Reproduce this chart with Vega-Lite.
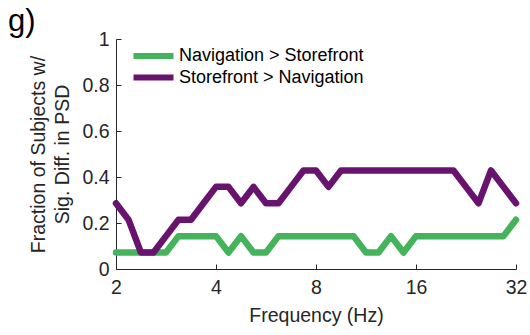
{
  "$schema": "https://vega.github.io/schema/vega-lite/v6.json",
  "width": 400,
  "height": 230,
  "autosize": {"type": "none"},
  "padding": {"left": 116, "top": 39, "right": 14, "bottom": 66},
  "background": "white",
  "config": {
    "view": {"stroke": null},
    "font": "Liberation Sans",
    "axis": {"grid": false, "domainColor": "#262626", "tickColor": "#262626", "labelColor": "#262626", "titleColor": "#262626", "titleFontWeight": "normal", "domainWidth": 1, "tickWidth": 1}
  },
  "title": {"text": "g)", "anchor": "start", "frame": "group", "fontSize": 31, "fontWeight": "normal", "color": "#000000", "dx": -108, "dy": 37, "baseline": "alphabetic", "offset": 4},
  "data": {
    "values": [
      {"f": 2.0, "v": 0.0714, "s": "Navigation > Storefront"},
      {"f": 2.181, "v": 0.0714, "s": "Navigation > Storefront"},
      {"f": 2.378, "v": 0.0714, "s": "Navigation > Storefront"},
      {"f": 2.594, "v": 0.0714, "s": "Navigation > Storefront"},
      {"f": 2.828, "v": 0.0714, "s": "Navigation > Storefront"},
      {"f": 3.084, "v": 0.1429, "s": "Navigation > Storefront"},
      {"f": 3.364, "v": 0.1429, "s": "Navigation > Storefront"},
      {"f": 3.668, "v": 0.1429, "s": "Navigation > Storefront"},
      {"f": 4.0, "v": 0.1429, "s": "Navigation > Storefront"},
      {"f": 4.362, "v": 0.0714, "s": "Navigation > Storefront"},
      {"f": 4.757, "v": 0.1429, "s": "Navigation > Storefront"},
      {"f": 5.187, "v": 0.0714, "s": "Navigation > Storefront"},
      {"f": 5.657, "v": 0.0714, "s": "Navigation > Storefront"},
      {"f": 6.169, "v": 0.1429, "s": "Navigation > Storefront"},
      {"f": 6.727, "v": 0.1429, "s": "Navigation > Storefront"},
      {"f": 7.336, "v": 0.1429, "s": "Navigation > Storefront"},
      {"f": 8.0, "v": 0.1429, "s": "Navigation > Storefront"},
      {"f": 8.724, "v": 0.1429, "s": "Navigation > Storefront"},
      {"f": 9.514, "v": 0.1429, "s": "Navigation > Storefront"},
      {"f": 10.375, "v": 0.1429, "s": "Navigation > Storefront"},
      {"f": 11.314, "v": 0.0714, "s": "Navigation > Storefront"},
      {"f": 12.338, "v": 0.0714, "s": "Navigation > Storefront"},
      {"f": 13.454, "v": 0.1429, "s": "Navigation > Storefront"},
      {"f": 14.672, "v": 0.0714, "s": "Navigation > Storefront"},
      {"f": 16.0, "v": 0.1429, "s": "Navigation > Storefront"},
      {"f": 17.448, "v": 0.1429, "s": "Navigation > Storefront"},
      {"f": 19.027, "v": 0.1429, "s": "Navigation > Storefront"},
      {"f": 20.749, "v": 0.1429, "s": "Navigation > Storefront"},
      {"f": 22.627, "v": 0.1429, "s": "Navigation > Storefront"},
      {"f": 24.675, "v": 0.1429, "s": "Navigation > Storefront"},
      {"f": 26.909, "v": 0.1429, "s": "Navigation > Storefront"},
      {"f": 29.344, "v": 0.1429, "s": "Navigation > Storefront"},
      {"f": 32.0, "v": 0.2143, "s": "Navigation > Storefront"},
      {"f": 2.0, "v": 0.2857, "s": "Storefront > Navigation"},
      {"f": 2.181, "v": 0.2143, "s": "Storefront > Navigation"},
      {"f": 2.378, "v": 0.0714, "s": "Storefront > Navigation"},
      {"f": 2.594, "v": 0.0714, "s": "Storefront > Navigation"},
      {"f": 2.828, "v": 0.1429, "s": "Storefront > Navigation"},
      {"f": 3.084, "v": 0.2143, "s": "Storefront > Navigation"},
      {"f": 3.364, "v": 0.2143, "s": "Storefront > Navigation"},
      {"f": 3.668, "v": 0.2857, "s": "Storefront > Navigation"},
      {"f": 4.0, "v": 0.3571, "s": "Storefront > Navigation"},
      {"f": 4.362, "v": 0.3571, "s": "Storefront > Navigation"},
      {"f": 4.757, "v": 0.2857, "s": "Storefront > Navigation"},
      {"f": 5.187, "v": 0.3571, "s": "Storefront > Navigation"},
      {"f": 5.657, "v": 0.2857, "s": "Storefront > Navigation"},
      {"f": 6.169, "v": 0.2857, "s": "Storefront > Navigation"},
      {"f": 6.727, "v": 0.3571, "s": "Storefront > Navigation"},
      {"f": 7.336, "v": 0.4286, "s": "Storefront > Navigation"},
      {"f": 8.0, "v": 0.4286, "s": "Storefront > Navigation"},
      {"f": 8.724, "v": 0.3571, "s": "Storefront > Navigation"},
      {"f": 9.514, "v": 0.4286, "s": "Storefront > Navigation"},
      {"f": 10.375, "v": 0.4286, "s": "Storefront > Navigation"},
      {"f": 11.314, "v": 0.4286, "s": "Storefront > Navigation"},
      {"f": 12.338, "v": 0.4286, "s": "Storefront > Navigation"},
      {"f": 13.454, "v": 0.4286, "s": "Storefront > Navigation"},
      {"f": 14.672, "v": 0.4286, "s": "Storefront > Navigation"},
      {"f": 16.0, "v": 0.4286, "s": "Storefront > Navigation"},
      {"f": 17.448, "v": 0.4286, "s": "Storefront > Navigation"},
      {"f": 19.027, "v": 0.4286, "s": "Storefront > Navigation"},
      {"f": 20.749, "v": 0.4286, "s": "Storefront > Navigation"},
      {"f": 22.627, "v": 0.3571, "s": "Storefront > Navigation"},
      {"f": 24.675, "v": 0.2857, "s": "Storefront > Navigation"},
      {"f": 26.909, "v": 0.4286, "s": "Storefront > Navigation"},
      {"f": 29.344, "v": 0.3571, "s": "Storefront > Navigation"},
      {"f": 32.0, "v": 0.2857, "s": "Storefront > Navigation"}
    ]
  },
  "mark": {"type": "line", "strokeWidth": 6.5, "strokeJoin": "round", "strokeCap": "round", "clip": false},
  "encoding": {
    "x": {
      "field": "f", "type": "quantitative",
      "scale": {"type": "log", "base": 2, "domain": [2, 32], "nice": false},
      "axis": {"values": [2, 4, 8, 16, 32], "format": "d", "tickSize": -5, "labelFontSize": 19.5, "labelPadding": 14, "titleFontSize": 19.5, "title": "Frequency (Hz)", "titlePadding": 10, "labelFlush": false}
    },
    "y": {
      "field": "v", "type": "quantitative",
      "scale": {"domain": [0, 1], "nice": false, "zero": true},
      "axis": {"values": [0, 0.2, 0.4, 0.6, 0.8, 1], "format": ".1~f", "tickSize": -5, "labelFontSize": 19.5, "labelPadding": 12, "titleFontSize": 19.5, "title": ["Fraction of Subjects w/", "Sig. Diff. in PSD"], "titlePadding": 9, "titleLineHeight": 24}
    },
    "color": {
      "field": "s", "type": "nominal",
      "scale": {"domain": ["Navigation > Storefront", "Storefront > Navigation"], "range": ["#45b35b", "#68146f"]},
      "legend": {"title": null, "orient": "none", "legendX": 28.5, "legendY": 8, "symbolType": "M-4,0H4", "symbolSize": 100, "symbolStrokeWidth": 6, "labelFontSize": 18, "labelLimit": 400, "labelColor": "#000000", "labelOffset": 16.5, "rowPadding": -2.5, "padding": 0}
    }
  }
}
